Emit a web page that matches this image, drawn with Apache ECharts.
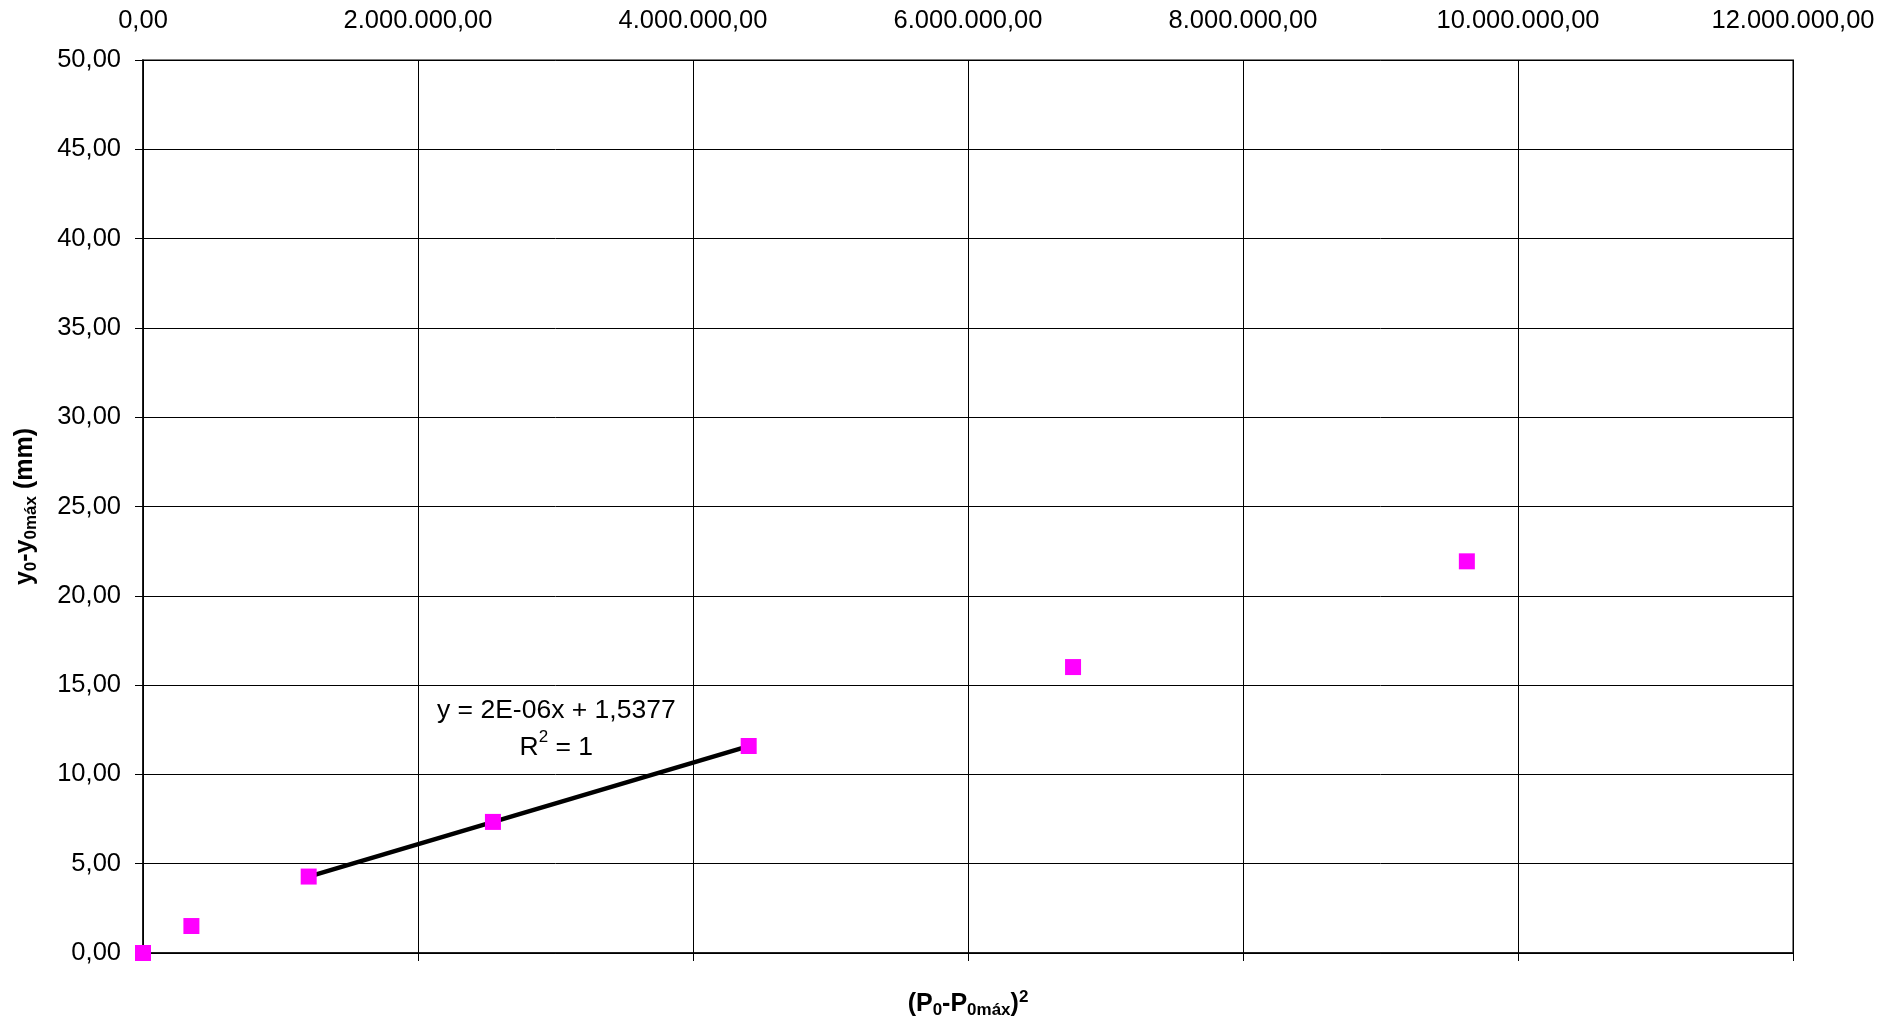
<!DOCTYPE html>
<html>
<head>
<meta charset="utf-8">
<script src="https://cdn.jsdelivr.net/npm/echarts@6/dist/echarts.min.js"></script>
<style>
html,body{margin:0;padding:0;background:#fff;}
#c{width:1903px;height:1025px;}
</style>
</head>
<body>
<div id="c"></div>
<script>
// Data
const xValues = [0, 352000, 1205000, 2545000, 4405000, 6764000, 9628000];
const yValues = [0.00, 1.51, 4.28, 7.34, 11.59, 16.01, 21.93];
const trendX = [1205000, 4405000];
const trendY = [4.28, 11.58];
const trendLabelPos = [3006000, 12.55];
const trendEquation = 'y = 2E-06x + 1,5377';
const trendR2 = '1';
const xTicks = { min: 0, max: 12000000, interval: 2000000 };
const yTicks = { min: 0, max: 50, interval: 5 };

const FONT = '"Liberation Sans", Arial, sans-serif';

function fmt(v) {
  const s = Number(v).toFixed(2);
  const parts = s.split('.');
  const intPart = parts[0].replace(/\B(?=(\d{3})+(?!\d))/g, '.');
  return intPart + ',' + parts[1];
}

const scatterData = xValues.map((x, i) => [x, yValues[i]]);
const trendData = trendX.map((x, i) => [x, trendY[i]]);

const chart = echarts.init(document.getElementById('c'), null, { renderer: 'canvas' });

const option = {
  animation: false,
  backgroundColor: '#fff',
  grid: {
    left: 143, top: 60, width: 1650, height: 893,
    show: true, borderColor: '#808080', borderWidth: 2, backgroundColor: 'transparent'
  },
  xAxis: [
    {
      type: 'value', position: 'bottom',
      min: xTicks.min, max: xTicks.max, interval: xTicks.interval,
      axisLine: { show: true, onZero: false, lineStyle: { color: '#000', width: 1.5 } },
      axisTick: { show: true, inside: false, length: 8, lineStyle: { color: '#000', width: 1 } },
      axisLabel: { show: false },
      splitLine: { show: true, lineStyle: { color: '#000', width: 1 } },
      name: '{b|(P}{s|0}{b|-P}{s|0máx}{b|)}{p|2}',
      nameLocation: 'middle',
      nameGap: 36,
      nameTextStyle: {
        rich: {
          b: { fontFamily: FONT, fontSize: 25, fontWeight: 'bold', color: '#000', lineHeight: 30 },
          s: { fontFamily: FONT, fontSize: 17, fontWeight: 'bold', color: '#000', lineHeight: 12, verticalAlign: 'bottom' },
          p: { fontFamily: FONT, fontSize: 17, fontWeight: 'bold', color: '#000', lineHeight: 12, verticalAlign: 'top' }
        }
      }
    },
    {
      type: 'value', position: 'top',
      min: xTicks.min, max: xTicks.max, interval: xTicks.interval,
      axisLine: { show: false },
      axisTick: { show: false },
      splitLine: { show: false },
      axisLabel: {
        show: true, margin: 26, formatter: v => fmt(v),
        fontFamily: FONT, fontSize: 25.5, color: '#000'
      }
    }
  ],
  yAxis: {
    type: 'value',
    min: yTicks.min, max: yTicks.max, interval: yTicks.interval,
    axisLine: { show: true, onZero: false, lineStyle: { color: '#000', width: 1.5 } },
    axisTick: { show: true, inside: false, length: 8, lineStyle: { color: '#000', width: 1 } },
    axisLabel: { show: true, margin: 22, formatter: v => fmt(v), fontFamily: FONT, fontSize: 25.5, color: '#000' },
    splitLine: { show: true, lineStyle: { color: '#000', width: 1 } },
    name: '{b|y}{s|0}{b|-y}{s|0máx}{b| (mm)}',
    nameLocation: 'middle',
    nameGap: 103,
    nameRotate: 90,
    nameTextStyle: {
      rich: {
        b: { fontFamily: FONT, fontSize: 25, fontWeight: 'bold', color: '#000', lineHeight: 30 },
        s: { fontFamily: FONT, fontSize: 17, fontWeight: 'bold', color: '#000', lineHeight: 12, verticalAlign: 'bottom' }
      }
    }
  },
  series: [
    {
      type: 'line', xAxisIndex: 0, data: trendData,
      symbol: 'none', lineStyle: { color: '#000', width: 4.5, opacity: 1 }, z: 3, silent: true
    },
    {
      type: 'scatter', xAxisIndex: 0, data: scatterData,
      symbol: 'rect', symbolSize: 16,
      itemStyle: { color: '#FF00FF', opacity: 1 }, z: 4
    },
    {
      type: 'scatter', xAxisIndex: 0, data: [trendLabelPos],
      symbolSize: 0, silent: true, z: 5,
      itemStyle: { opacity: 1 },
      label: {
        show: true, position: 'inside', opacity: 1,
        formatter: '{t|' + trendEquation + '}\n{t|R}{sup|2}{t| = ' + trendR2 + '}',
        align: 'center',
        rich: {
          t: { fontFamily: FONT, fontSize: 26.5, color: '#000', lineHeight: 37, align: 'center' },
          sup: { fontFamily: FONT, fontSize: 17, color: '#000', lineHeight: 30, verticalAlign: 'top' }
        }
      }
    }
  ]
};
chart.setOption(option);
</script>
</body>
</html>
